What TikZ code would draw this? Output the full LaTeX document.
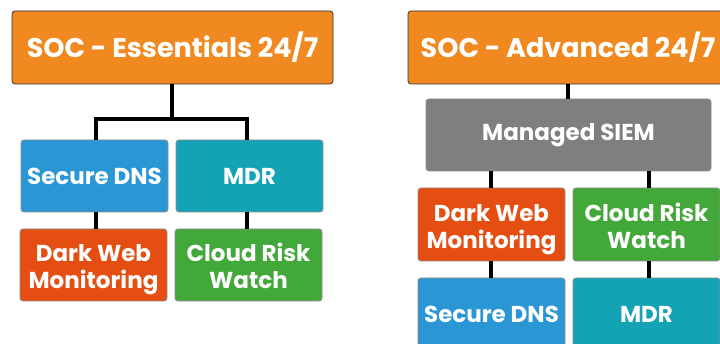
\documentclass[tikz,border=0pt]{standalone}
\usepackage{fontspec}
\setmainfont{Poppins}
\definecolor{socorange}{HTML}{F0891F}
\definecolor{dnsblue}{HTML}{2A96D4}
\definecolor{mdrteal}{HTML}{13A3B5}
\definecolor{darkweb}{HTML}{E54E12}
\definecolor{cloudgreen}{HTML}{43A83A}
\definecolor{siemgray}{HTML}{7F7F7F}
\tikzset{
  box/.style={draw=black!45, line width=0.8pt, rounded corners=3pt, inner sep=0pt,
    text=white, font=\bfseries\fontsize{23}{27}\selectfont, align=center},
  % extra height above a two-line label lowers it to sit centred on its capitals
  twoline/.style={box, text height=54pt, text depth=6pt},
  titlebox/.style={box, draw=black!80, font=\bfseries\fontsize{27}{32}\selectfont},
  link/.style={line width=4pt, black},
}
\begin{document}
\begin{tikzpicture}[x=1pt, y=-1pt]
\useasboundingbox (0,0) rectangle (720,344);
\clip (0,0) rectangle (720,344);
% Essentials tree
\node[titlebox, fill=socorange, minimum width=321pt, minimum height=73pt] (et) at (172.5,47.5) {SOC - Essentials 24/7};
\node[box, fill=dnsblue, minimum width=147pt, minimum height=72pt] (edns) at (94.5,176) {Secure DNS};
\node[box, fill=mdrteal, minimum width=147pt, minimum height=72pt] (emdr) at (249.5,176) {MDR};
\node[twoline, fill=darkweb, minimum width=147pt, minimum height=72pt] (edw) at (93.5,265) {Dark Web\\Monitoring};
\node[twoline, fill=cloudgreen, minimum width=147pt, minimum height=72pt] (ecr) at (248.5,265) {Cloud Risk\\Watch};
\coordinate (ej) at (172,119);
\draw[link] (et.south -| ej) -- (ej);
\draw[link] (edns.north -| 96,0) |- (ej) -| (emdr.north -| 247,0);
\draw[link] (edns.south -| 96,0) -- (edw.north -| 96,0);
\draw[link] (emdr.south -| 247,0) -- (ecr.north -| 247,0);
% Advanced tree
\node[titlebox, fill=socorange, minimum width=320pt, minimum height=73pt] (at) at (568,47.5) {SOC - Advanced 24/7};
\node[box, fill=siemgray, minimum width=285pt, minimum height=72pt] (siem) at (568.5,135) {Managed SIEM};
\node[twoline, fill=darkweb, minimum width=147pt, minimum height=73pt] (adw) at (491.5,224.5) {Dark Web\\Monitoring};
\node[twoline, fill=cloudgreen, minimum width=147pt, minimum height=73pt] (acr) at (646.5,224.5) {Cloud Risk\\Watch};
\node[box, fill=dnsblue, minimum width=147pt, minimum height=73pt] (adns) at (491.5,314.5) {Secure DNS};
\node[box, fill=mdrteal, minimum width=147pt, minimum height=73pt] (amdr) at (646.5,314.5) {MDR};
\draw[link] (at.south -| 568,0) -- (siem.north -| 568,0);
\draw[link] (siem.south -| 491,0) -- (adw.north -| 491,0);
\draw[link] (siem.south -| 649,0) -- (acr.north -| 649,0);
\draw[link] (adw.south -| 491,0) -- (adns.north -| 491,0);
\draw[link] (acr.south -| 649,0) -- (amdr.north -| 649,0);
\end{tikzpicture}
\end{document}
